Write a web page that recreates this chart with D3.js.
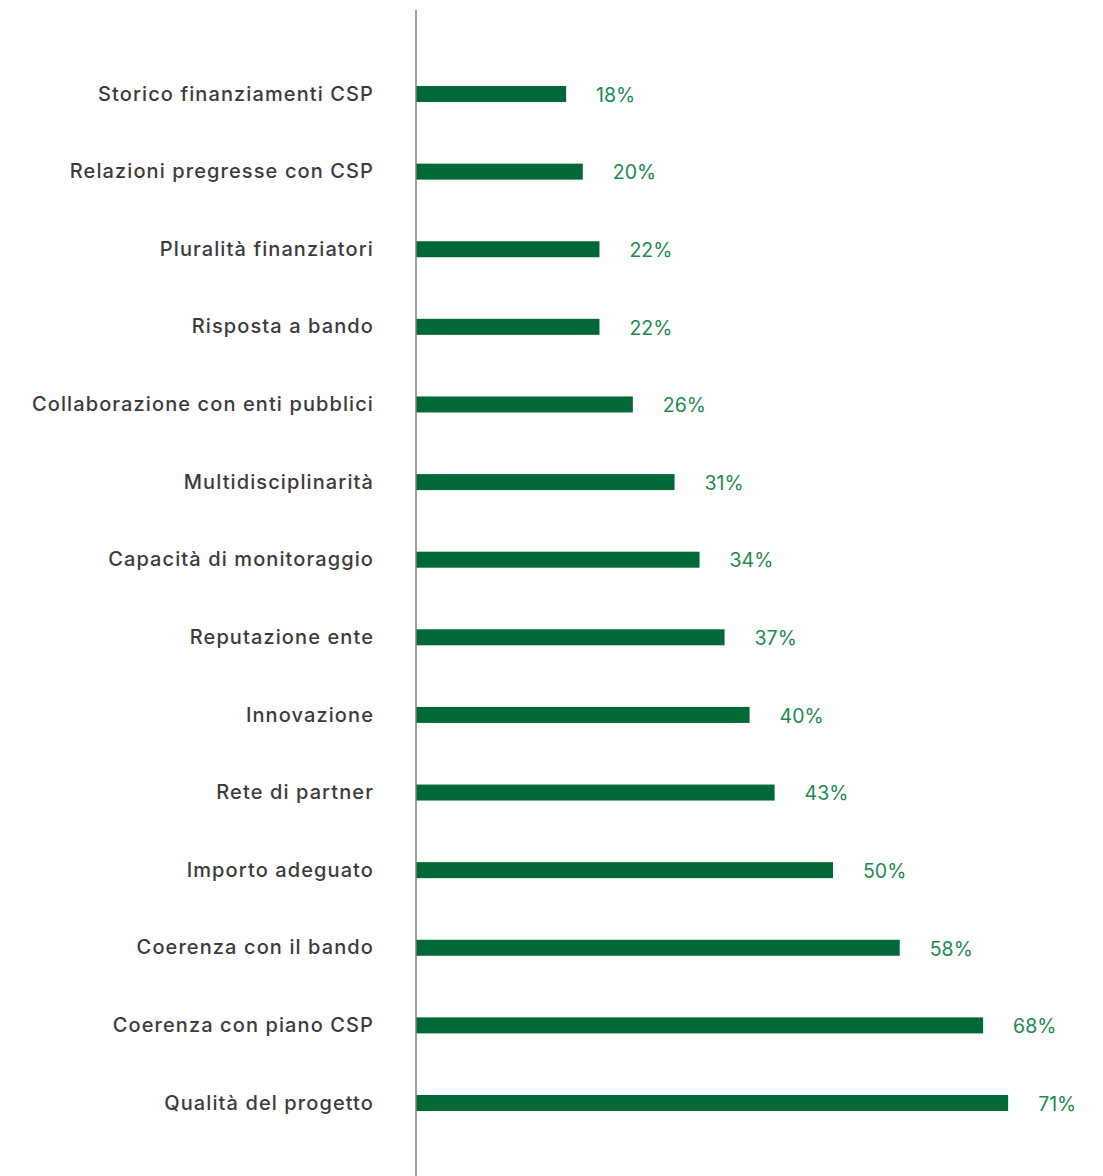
<!DOCTYPE html>
<html>
<head>
<meta charset="utf-8">
<script src="https://cdn.jsdelivr.net/npm/d3@7"></script>
<style>
  html, body { margin: 0; padding: 0; background: #ffffff; }
  svg { display: block; }
</style>
</head>
<body>
<svg id="chart" width="1103" height="1176"></svg>
<script>
const categories = [
  "Storico finanziamenti CSP",
  "Relazioni pregresse con CSP",
  "Pluralità finanziatori",
  "Risposta a bando",
  "Collaborazione con enti pubblici",
  "Multidisciplinarità",
  "Capacità di monitoraggio",
  "Reputazione ente",
  "Innovazione",
  "Rete di partner",
  "Importo adeguato",
  "Coerenza con il bando",
  "Coerenza con piano CSP",
  "Qualità del progetto"
];
const values = [18, 20, 22, 22, 26, 31, 34, 37, 40, 43, 50, 58, 68, 71];
const valueLabels = ["18%", "20%", "22%", "22%", "26%", "31%", "34%", "37%", "40%", "43%", "50%", "58%", "68%", "71%"];

const svg = d3.select("#chart");
const x0 = 416;
const x = d3.scaleLinear().domain([0, 100]).range([x0, x0 + 834]);
const y = d3.scalePoint().domain(categories).range([94, 1103]);
const barH = 16;

svg.append("g").selectAll("rect")
  .data(categories)
  .join("rect")
  .attr("x", x(0))
  .attr("y", d => y(d) - barH / 2)
  .attr("width", (d, i) => x(values[i]) - x(0))
  .attr("height", barH)
  .attr("fill", "#006937");

svg.append("line")
  .attr("x1", x0).attr("x2", x0)
  .attr("y1", 10).attr("y2", 1176)
  .attr("stroke", "#7f7f7f").attr("stroke-width", 1.5);

svg.append("g").selectAll("text")
  .data(categories)
  .join("text")
  .attr("x", 374)
  .attr("y", d => y(d))
  .attr("dy", "0.33em")
  .attr("text-anchor", "end")
  .attr("font-family", "Inter, sans-serif")
  .attr("font-weight", 500)
  .attr("font-size", 20)
  .attr("letter-spacing", "1.1px")
  .attr("fill", "#3b3b3b")
  .text(d => d);

svg.append("g").selectAll("text")
  .data(categories)
  .join("text")
  .attr("x", (d, i) => x(values[i]) + 30)
  .attr("y", d => y(d))
  .attr("dy", "0.4em")
  .attr("font-family", "Inter, sans-serif")
  .attr("font-weight", 400)
  .attr("font-size", 19.5)
  .attr("fill", "#1c8a4f")
  .text((d, i) => valueLabels[i]);
</script>
</body>
</html>
